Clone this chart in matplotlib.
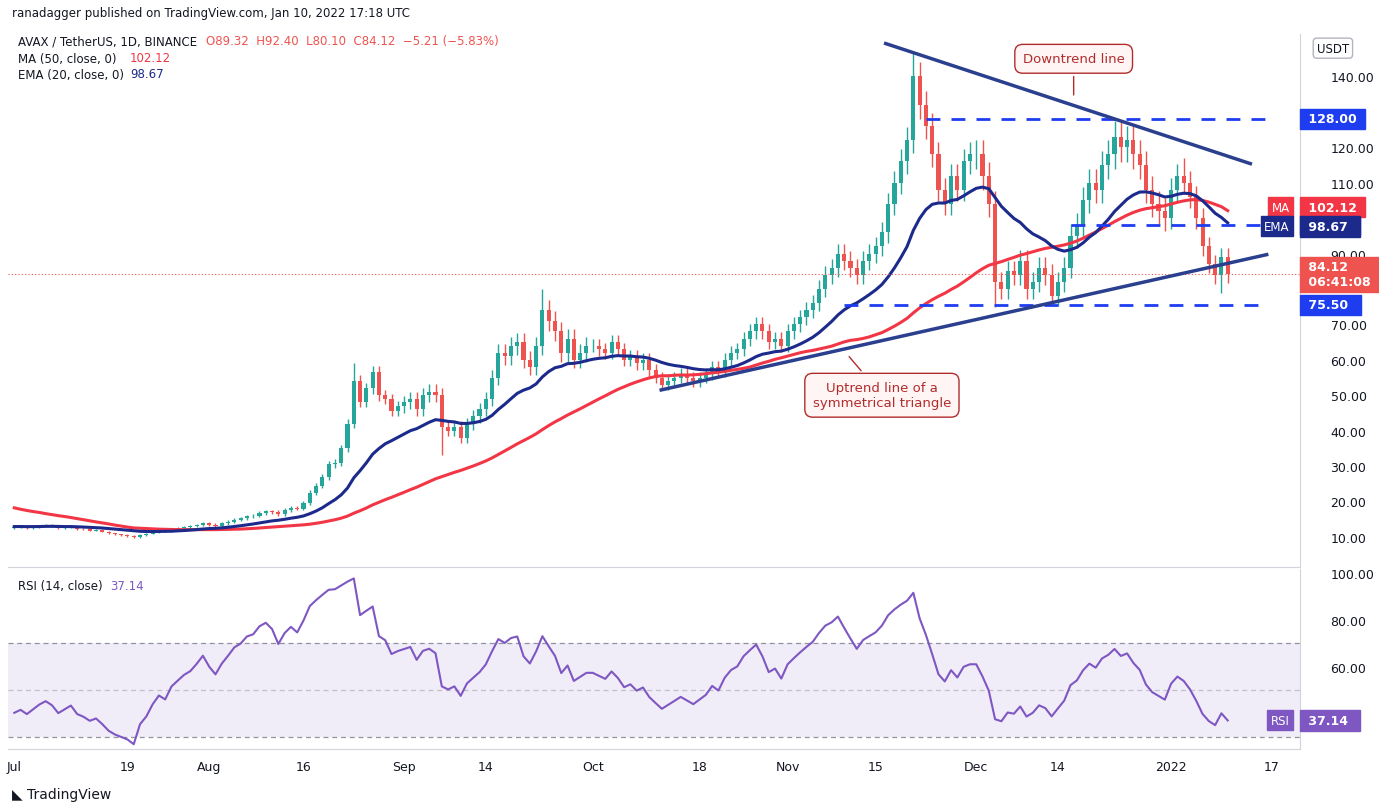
import matplotlib.pyplot as plt
import numpy as np
import pandas as pd

# -------- Datos (cierres diarios AVAX/USDT) -------- #
pre_closes = [35, 33, 30, 28, 26, 30, 28, 26, 25, 27, 28, 29, 27, 26, 25, 26, 27, 25, 24, 22,
              15, 16, 16, 15, 14, 15, 14, 13, 13, 14, 14, 13, 13, 12, 12, 13, 13, 12, 11, 11,
              10, 10, 11, 11, 12, 12, 13, 13, 12, 12.5]
closes = [
    # Jul
    12.8, 13.0, 12.6, 12.9, 13.2, 13.4, 13.1, 12.5, 12.7, 12.9, 12.3, 12.1, 11.8, 11.9, 11.5, 11.0,
    10.7, 10.5, 10.3, 9.9, 10.6, 10.9, 11.4, 11.8, 11.6, 12.2, 12.5, 12.8, 13.0, 13.4, 13.9,
    # Aug
    13.5, 13.2, 13.8, 14.3, 14.9, 15.2, 15.8, 16.0, 16.8, 17.2, 17.0, 16.5, 17.5, 18.2, 18.0, 19.5,
    22.5, 24.5, 27.0, 30.5, 31.0, 35.0, 42.0, 54.0, 48.0, 52.0, 56.5, 50.0, 49.0, 45.5, 47.0,
    # Sep
    48.0, 49.0, 46.0, 50.0, 51.0, 50.0, 41.0, 40.0, 41.0, 38.0, 42.0, 44.0, 46.0, 49.0, 55.0,
    62.0, 61.0, 64.0, 65.0, 60.0, 58.0, 64.0, 74.0, 71.0, 68.0, 62.0, 66.0, 60.0, 62.0, 64.0,
    # Oct
    64, 63, 62, 65, 63, 60, 61, 59, 60, 57, 55, 53, 54, 55, 56, 55, 54, 55, 56, 58, 57, 60, 62,
    63, 66, 68, 70, 68, 65, 66, 64,
    # Nov
    68, 70, 72, 74, 76, 80, 84, 86, 90, 88, 86, 84, 88, 90, 92, 96, 104, 110, 116, 122, 140, 132,
    126, 118, 108, 104, 112, 108, 116, 118,
    # Dec
    118, 112, 104, 82, 80, 85, 84, 88, 80, 82, 86, 84, 78, 82, 86, 95, 98, 105, 110, 108, 115,
    118, 123, 120, 122, 118, 115, 108, 104, 102, 100,
    # Jan
    108, 112, 110, 106, 100, 92, 87, 84, 89, 84.12]
wick_month = [0.02, 0.03, 0.04, 0.03, 0.03, 0.035, 0.03]   # tamaño típico de mecha por mes
month_start = [0, 31, 62, 92, 123, 153, 184]
extreme_high = {54: 59, 84: 80, 143: 147, 186: 117, 177: 126}
extreme_low = {68: 33, 156: 75, 165: 75.5, 192: 79}

ticks_pos = [0, 18, 31, 46, 62, 75, 92, 109, 123, 137, 153, 166, 184, 200]
ticks_lab = ['Jul', '19', 'Aug', '16', 'Sep', '14', 'Oct', '18', 'Nov', '15', 'Dec', '14', '2022', '17']

# -------- Cálculos -------- #
allc = pd.Series(pre_closes + closes)
ma = allc.rolling(50).mean().values[len(pre_closes):]
ema = allc.ewm(span=20, adjust=False).mean().values[len(pre_closes):]
d = allc.diff()
up = d.clip(lower=0).ewm(alpha=1/14, adjust=False).mean()
dn = (-d.clip(upper=0)).ewm(alpha=1/14, adjust=False).mean()
rsi = (100 - 100 / (1 + up / dn)).values[len(pre_closes):]

n = len(closes)
x = np.arange(n)
opens = np.array([pre_closes[-1]] + closes[:-1])
c = np.array(closes)
highs, lows = [], []
for i in range(n):
    m = np.searchsorted(month_start, i, side='right') - 1
    w = wick_month[m]
    highs.append(extreme_high.get(i, max(opens[i], c[i]) * (1 + w)))
    lows.append(extreme_low.get(i, min(opens[i], c[i]) * (1 - w)))

GREEN, RED, NAVY, BLUE = '#26a69a', '#ef5350', '#1c2a8c', '#1e3cf0'

fig = plt.figure(figsize=(13.79, 8.12), dpi=100)
ax = fig.add_axes([8/1379, 1 - 568/812, 1292/1379, 533/812])
ax2 = fig.add_axes([8/1379, 1 - 750/812, 1292/1379, 180/812])

for a in (ax, ax2):
    a.set_xlim(-1, 204.5)
    for s in a.spines.values():
        s.set_color('#d1d4dc')
    a.spines['left'].set_visible(False)
    a.spines['top'].set_visible(False)
    a.yaxis.tick_right()
    a.tick_params(axis='y', length=0, labelsize=9, colors='#131722', pad=22)
    a.set_xticks(ticks_pos)

# --- Velas --- #
col = [GREEN if c[i] >= opens[i] else RED for i in range(n)]
ax.vlines(x, lows, highs, colors=col, lw=1)
ax.bar(x, np.abs(c - opens), bottom=np.minimum(c, opens), color=col, width=0.65)

ax.plot(x, ma, color='#f23645', lw=2.2)
ax.plot(x, ema, color=NAVY, lw=2.2)
ax.axhline(c[-1], color=RED, lw=0.8, ls=(0, (1, 2)))

yt = [10, 20, 30, 40, 50, 60, 70, 90, 110, 120, 140]
ax.set_ylim(1.5, 152)
ax.set_yticks(yt)
ax.set_yticklabels([f'{v:.2f}' for v in yt])
ax.set_xticklabels([])
ax.tick_params(axis='x', length=0)

# --- Niveles y líneas de tendencia --- #
for lvl, x0 in [(128, 145), (98, 168), (75.5, 132)]:
    ax.plot([x0, 199], [lvl, lvl], color=BLUE, lw=2, ls=(0, (5, 4)))
ax.plot([138.6, 196.6], [149.3, 115.4], color='#2b3f8f', lw=2.5)
ax.plot([102.9, 199.2], [51.5, 89.7], color='#2b3f8f', lw=2.5)

box = dict(boxstyle='round,pad=0.6', fc='#fff5f5', ec='#b22c2c', lw=1)
ax.annotate('Downtrend line', xy=(168.5, 134), xytext=(168.5, 145), ha='center', va='center',
            fontsize=9.5, color='#b22c2c', bbox=box,
            arrowprops=dict(arrowstyle='-', color='#b22c2c', lw=1))
ax.annotate('Uptrend line of a\nsymmetrical triangle', xy=(132.5, 61.5), xytext=(138, 50),
            ha='center', va='center', fontsize=9.5, color='#b22c2c', bbox=box,
            arrowprops=dict(arrowstyle='-', color='#b22c2c', lw=1))

# --- Etiquetas de precio a la derecha --- #
def tag(a, y, txt, color, tc='white'):
    a.text(1.003, y, txt, transform=a.get_yaxis_transform(), ha='left', va='center',
           fontsize=9, color=tc, fontweight='bold',
           bbox=dict(boxstyle='square,pad=0.3', fc=color, ec=color))

tag(ax, 128, ' 128.00 ', BLUE)
tag(ax, 98, ' 98.00  ', BLUE)
tag(ax, 75.5, ' 75.50  ', BLUE)
tag(ax, ma[-1] + 1, f' {ma[-1]:.2f} ', '#f23645')
tag(ax, ema[-1] - 1, f' {ema[-1]:.2f}  ', NAVY)
tag(ax, 84.12, ' 84.12  \n 06:41:08 ', RED)
ax.text(0.992, ma[-1] + 1, 'MA', transform=ax.get_yaxis_transform(), ha='right', va='center',
        fontsize=8.5, color='white', bbox=dict(boxstyle='square,pad=0.3', fc='#f23645', ec='#f23645'))
ax.text(0.992, ema[-1] - 1, 'EMA', transform=ax.get_yaxis_transform(), ha='right', va='center',
        fontsize=8.5, color='white', bbox=dict(boxstyle='square,pad=0.3', fc=NAVY, ec=NAVY))
ax.text(1.013, 148, 'USDT', transform=ax.get_yaxis_transform(), ha='left', va='center',
        fontsize=8.5, color='#131722', bbox=dict(boxstyle='round,pad=0.3', fc='white', ec='#b2b5be'))

# --- RSI --- #
ax2.axhspan(30, 70, color='#7e57c2', alpha=0.1, lw=0)
for lv in (70, 50, 30):
    ax2.axhline(lv, color='#787b86', lw=0.9, ls=(0, (4, 3)), alpha=0.8 if lv != 50 else 0.4)
ax2.plot(x, rsi, color='#7e57c2', lw=1.5)
ax2.set_ylim(25, 101.5)
ax2.set_yticks([60, 80, 100])
ax2.set_yticklabels(['60.00', '80.00', '100.00'])
ax2.set_xticklabels(ticks_lab, fontsize=9, color='#131722')
ax2.tick_params(axis='x', length=0, pad=8)
ax2.text(0.992, rsi[-1], 'RSI', transform=ax2.get_yaxis_transform(), ha='right', va='center',
         fontsize=8.5, color='white', bbox=dict(boxstyle='square,pad=0.3', fc='#7e57c2', ec='#7e57c2'))
tag(ax2, rsi[-1], f' {rsi[-1]:.2f}  ', '#7e57c2')

# --- Textos de cabecera --- #
fig.text(12/1379, 1 - 14/812, 'ranadagger published on TradingView.com, Jan 10, 2022 17:18 UTC',
         fontsize=8.5, color='#131722', va='center')
fig.text(18/1379, 1 - 42/812, 'AVAX / TetherUS, 1D, BINANCE', fontsize=8.5, color='#131722', va='center')
fig.text(206/1379, 1 - 42/812, 'O89.32  H92.40  L80.10  C84.12  −5.21 (−5.83%)',
         fontsize=8.5, color=RED, va='center')
fig.text(18/1379, 1 - 59/812, 'MA (50, close, 0)', fontsize=8.5, color='#131722', va='center')
fig.text(130/1379, 1 - 59/812, f'{ma[-1]:.2f}', fontsize=8.5, color='#f23645', va='center')
fig.text(18/1379, 1 - 75/812, 'EMA (20, close, 0)', fontsize=8.5, color='#131722', va='center')
fig.text(130/1379, 1 - 75/812, f'{ema[-1]:.2f}', fontsize=8.5, color=NAVY, va='center')
fig.text(18/1379, 1 - 587/812, 'RSI (14, close)', fontsize=8.5, color='#131722', va='center')
fig.text(110/1379, 1 - 587/812, f'{rsi[-1]:.2f}', fontsize=8.5, color='#7e57c2', va='center')
fig.text(12/1379, 1 - 795/812, '◣ TradingView', fontsize=10, color='#131722', va='center')

fig.savefig('out.png', dpi=100)
